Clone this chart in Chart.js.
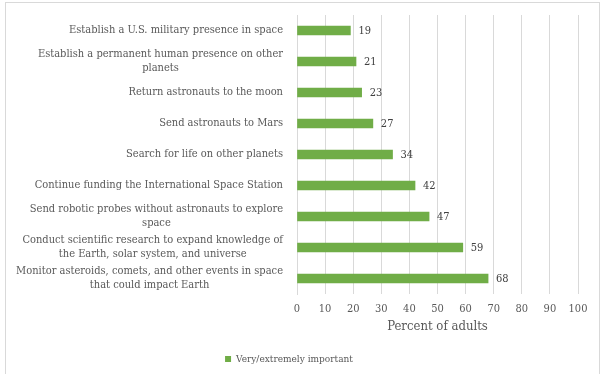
<!DOCTYPE html>
<html>
<head>
<meta charset="utf-8">
<script src="https://cdn.jsdelivr.net/npm/chart.js@4/dist/chart.umd.min.js"></script>
<style>
  html, body { margin: 0; padding: 0; background: #fff; }
  #wrap { position: relative; width: 612px; height: 374px; }
  #frame { position: absolute; left: 5px; top: 2px; width: 595px; height: 380px;
           border: 1px solid #d9d9d9; box-sizing: border-box; }
  canvas { position: absolute; left: 0; top: 0; }
</style>
</head>
<body>
<div id="wrap">
  <div id="frame"></div>
  <canvas id="grafico" width="612" height="374"></canvas>
</div>
<script>
const categorias = [
  'Establish a U.S. military presence in space',
  ['Establish a permanent human presence on other', 'planets'],
  'Return astronauts to the moon',
  'Send astronauts to Mars',
  'Search for life on other planets',
  'Continue funding the International Space Station',
  ['Send robotic probes without astronauts to explore', 'space'],
  ['Conduct scientific research to expand knowledge of', 'the Earth, solar system, and universe'],
  ['Monitor asteroids, comets, and other events in space', 'that could impact Earth']
];
const valores = [19, 21, 23, 27, 34, 42, 47, 59, 68];
const serieNome = 'Very/extremely important';
const eixoTitulo = 'Percent of adults';

const fonte = "'DejaVu Serif Condensed', 'DejaVu Serif', serif";

// rótulos de valor no fim de cada barra
const rotulos = {
  id: 'rotulos',
  afterDatasetsDraw(chart) {
    const ctx = chart.ctx;
    const meta = chart.getDatasetMeta(0);
    ctx.save();
    ctx.font = '11px ' + fonte;
    ctx.fillStyle = '#404040';
    ctx.textAlign = 'left';
    ctx.textBaseline = 'middle';
    meta.data.forEach((bar, i) => {
      ctx.fillText(String(valores[i]), bar.x + 8, bar.y + 1);
    });
    ctx.restore();
  }
};

// categorias: bloco alinhado à direita, linhas centralizadas entre si (como no Excel)
const categoriasEixo = {
  id: 'categoriasEixo',
  afterDraw(chart) {
    const ctx = chart.ctx;
    const y = chart.scales.y;
    const direita = y.right - 14;
    const alturaLinha = 14;
    ctx.save();
    ctx.font = '11px ' + fonte;
    ctx.fillStyle = '#595959';
    ctx.textAlign = 'center';
    ctx.textBaseline = 'middle';
    categorias.forEach((cat, i) => {
      const linhas = Array.isArray(cat) ? cat : [cat];
      const larg = Math.max(...linhas.map(l => ctx.measureText(l).width));
      const cx = direita - larg / 2;
      const cy = y.getPixelForTick(i);
      const topo = cy - (linhas.length - 1) * alturaLinha / 2;
      linhas.forEach((l, k) => ctx.fillText(l, cx, topo + k * alturaLinha));
    });
    ctx.restore();
  }
};

const ctx = document.getElementById('grafico').getContext('2d');
window.myChart = new Chart(ctx, {
  type: 'bar',
  data: {
    labels: categorias,
    datasets: [{
      label: serieNome,
      data: valores,
      backgroundColor: '#70ad47',
      borderWidth: 0,
      barThickness: 9
    }]
  },
  options: {
    indexAxis: 'y',
    responsive: false,
    animation: false,
    layout: { padding: { top: 15, right: 34, bottom: 0, left: 0 } },
    plugins: {
      legend: {
        position: 'bottom',
        labels: {
          boxWidth: 6, boxHeight: 6, padding: 10,
          color: '#595959',
          font: { family: fonte, size: 10 }
        }
      },
      tooltip: { enabled: false }
    },
    scales: {
      x: {
        min: 0, max: 100,
        ticks: { stepSize: 10, color: '#595959', padding: 9, font: { family: fonte, size: 11 } },
        grid: { color: '#d9d9d9', drawTicks: false },
        border: { display: false },
        title: { display: true, text: eixoTitulo, color: '#595959',
                 font: { family: fonte, size: 13 }, padding: { top: 0, bottom: 10 } },
        afterFit(scale) { scale.height = 50; }
      },
      y: {
        ticks: { display: false, autoSkip: false },
        grid: { display: false, drawTicks: false },
        border: { display: true, color: '#d9d9d9' },
        afterFit(scale) {
          scale.width = 297;
          scale.paddingTop = 0;
          scale.paddingBottom = 0;
        }
      }
    }
  },
  plugins: [rotulos, categoriasEixo]
});
</script>
</body>
</html>
